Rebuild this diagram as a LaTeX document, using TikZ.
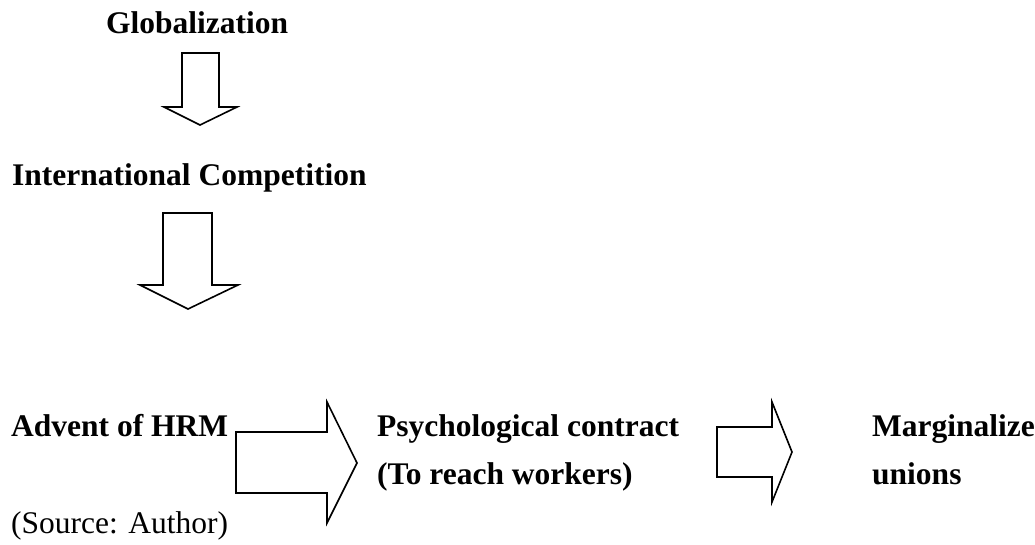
\documentclass[tikz,border=0pt]{standalone}
\usepackage{fontspec}
\setmainfont{Liberation Serif}
\begin{document}
\begin{tikzpicture}[x=1pt,y=-1pt,
  lbl/.style={inner sep=0pt,anchor=base west,font=\fontsize{31.5}{47}\selectfont\bfseries},
  srclbl/.style={inner sep=0pt,anchor=base west,font=\fontsize{31.5}{47}\selectfont},
  blockarrow/.style={draw=black,line width=1.6pt,line join=miter,fill=white}]
\useasboundingbox (0,0) rectangle (1035,544);

% labels
\node[lbl] (glob) at (106,33) {Globalization};
\node[lbl] (comp) at (12,185) {International Competition};
\node[lbl] (hrm)  at (11,436) {Advent of HRM};
\node[lbl] (psy)  at (377,436) {Psychological contract};
\node[lbl] (reach) at (377,484) {(To reach workers)};
\node[lbl] (marg) at (872,436) {Marginalize};
\node[lbl] (uni)  at (872,484) {unions};
\node[srclbl] (src) at (11,533) {(Source: Author)};

% block arrows
\draw[blockarrow] (182,53) -- (219,53) -- (219,107) -- (237,107) -- (200,125)
  -- (164,107) -- (182,107) -- cycle;
\draw[blockarrow] (163,213) -- (212,213) -- (212,285) -- (238,285) -- (188,309)
  -- (140,285) -- (163,285) -- cycle;
\draw[blockarrow] (236,432) -- (327,432) -- (327,402) -- (357,463) -- (327,523)
  -- (327,493) -- (236,493) -- cycle;
\draw[blockarrow] (717,427) -- (772,427) -- (772,402) -- (792,452) -- (772,502)
  -- (772,477) -- (717,477) -- cycle;
\end{tikzpicture}
\end{document}
